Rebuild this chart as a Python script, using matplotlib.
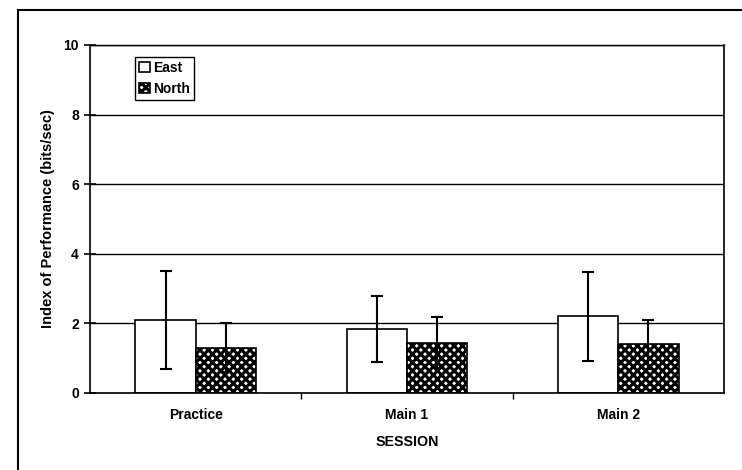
import numpy as np
import matplotlib
matplotlib.use("Agg")
import matplotlib.pyplot as plt
from matplotlib.lines import Line2D

sessions = ["Practice", "Main 1", "Main 2"]
east_mean = [2.1, 1.85, 2.2]
east_err = [1.4, 0.95, 1.28]
north_mean = [1.3, 1.45, 1.4]
north_err = [0.7, 0.72, 0.7]

plt.rcParams['font.family'] = ['Liberation Sans', 'DejaVu Sans']
plt.rcParams['font.weight'] = 'bold'
plt.rcParams['hatch.linewidth'] = 2.2

fig = plt.figure(figsize=(7.42, 4.70), dpi=100)
ax = fig.add_axes([90 / 742, 1 - 393 / 470, (724 - 90) / 742, (393 - 45) / 470])

x = np.arange(len(sessions))
w = 0.285
ax.bar(x - w / 2, east_mean, w, color='white', edgecolor='black', lw=1.2,
       label='East', zorder=2)
ax.bar(x + w / 2, north_mean, w, color='white', edgecolor='black', lw=1.2,
       hatch='xxxx', label='North', zorder=2)
ax.errorbar(x - w / 2, east_mean, yerr=east_err, fmt='none', ecolor='black',
            elinewidth=1.5, capsize=4, capthick=1.5, zorder=3)
ax.errorbar(x + w / 2, north_mean, yerr=north_err, fmt='none', ecolor='black',
            elinewidth=1.5, capsize=4, capthick=1.5, zorder=3)

ax.set_xlim(-0.5, len(sessions) - 0.5)
ax.set_ylim(0, 10)
ax.set_yticks([0, 2, 4, 6, 8, 10])
ax.yaxis.grid(True, color='black', lw=1.0)
ax.set_axisbelow(True)
for s in ax.spines.values():
    s.set_linewidth(1.2)
ax.spines['top'].set_linewidth(1.0)

ax.set_xticks(x)
ax.set_xticklabels(sessions)
ax.tick_params(axis='x', length=0, pad=11, labelsize=10)
ax.set_xticks([0.5, 1.5], minor=True)
ax.tick_params(axis='x', which='minor', direction='out', length=4, width=1)
ax.tick_params(axis='y', direction='inout', length=8, width=1.2, labelsize=10, pad=4)

ax.set_xlabel('SESSION', fontsize=10.3, fontweight='bold', labelpad=9)
ax.set_ylabel('Index of Performance (bits/sec)', fontsize=10.5, fontweight='bold', labelpad=6)

leg = ax.legend(loc='upper left', bbox_to_anchor=(0.071, 0.966), fontsize=10,
                frameon=True, fancybox=False, edgecolor='black', framealpha=1,
                handlelength=0.8, handleheight=0.8, handletextpad=0.2,
                borderpad=0.3, labelspacing=0.5, borderaxespad=0)
leg.get_frame().set_linewidth(1.0)

# outer chart frame
fig.add_artist(Line2D([18 / 742, 1.0], [1 - 10 / 470, 1 - 10 / 470], color='black', lw=1.5))
fig.add_artist(Line2D([18 / 742, 18 / 742], [0, 1 - 10 / 470], color='black', lw=1.5))

fig.savefig('out.png', dpi=100)
